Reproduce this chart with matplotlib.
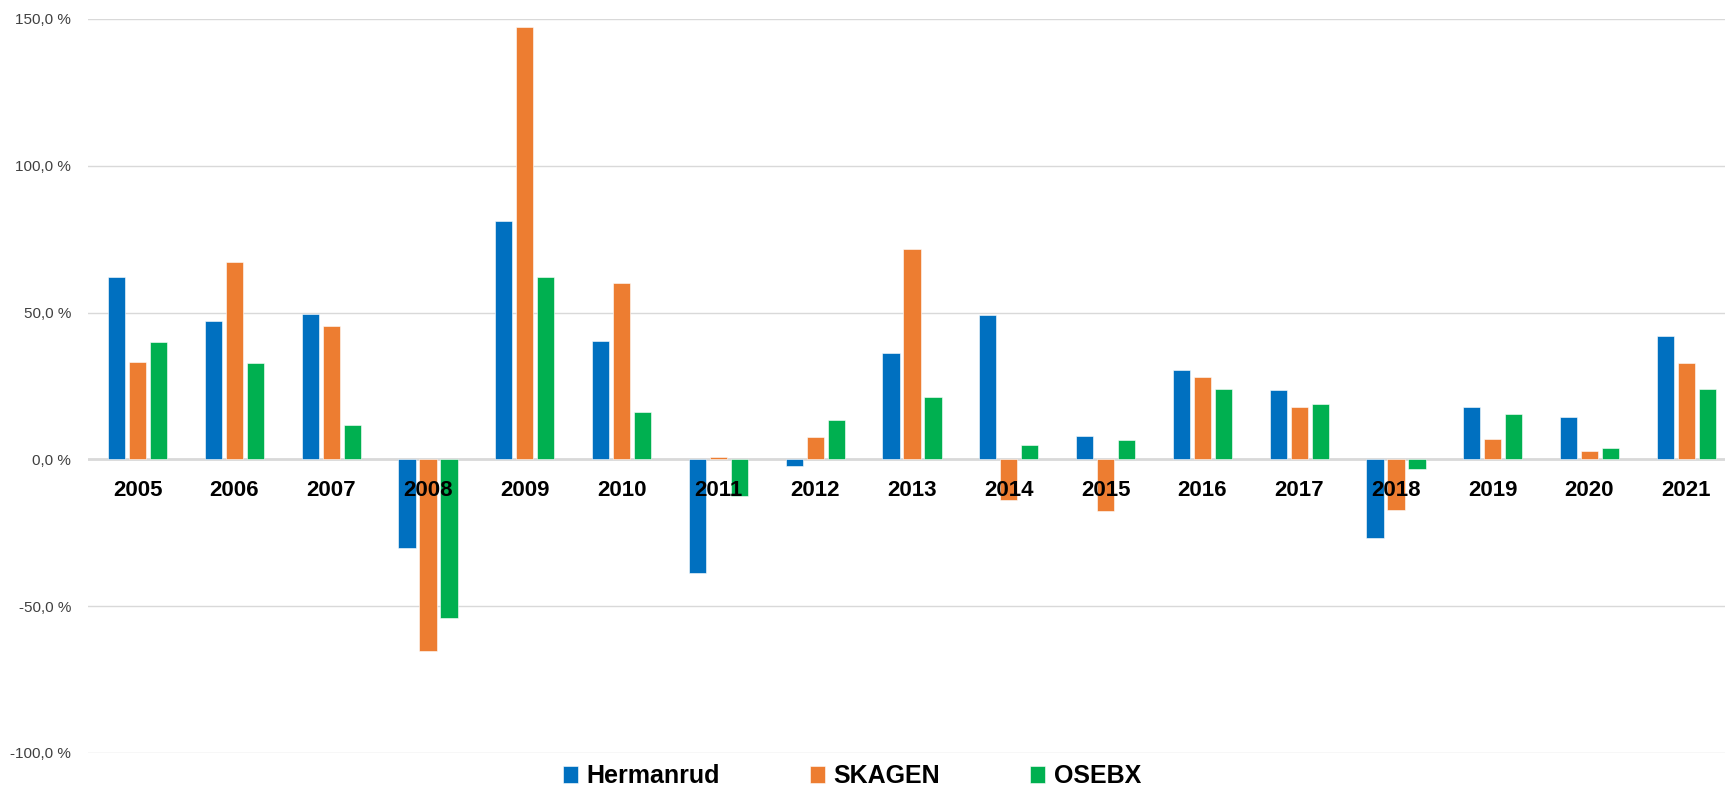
import numpy as np
import matplotlib
matplotlib.use("Agg")
import matplotlib.pyplot as plt
from matplotlib.ticker import FuncFormatter

# Data (annual returns, %)
years = ["2005", "2006", "2007", "2008", "2009", "2010", "2011", "2012", "2013",
         "2014", "2015", "2016", "2017", "2018", "2019", "2020", "2021"]
hermanrud = [62.1, 47.2, 49.6, -30.3, 81.3, 40.2, -38.8, -2.4, 36.3,
             49.2, 7.8, 30.3, 23.7, -26.8, 18.0, 14.5, 42.2]
skagen = [33.3, 67.2, 45.5, -65.2, 147.4, 60.1, 0.9, 7.5, 71.7,
          -13.7, -17.6, 27.9, 18.0, -17.3, 6.8, 2.8, 32.7]
osebx = [39.9, 32.7, 11.8, -54.0, 62.1, 16.1, -12.6, 13.3, 21.1,
         4.9, 6.6, 24.0, 18.7, -3.1, 15.4, 3.8, 24.0]

series = ["Hermanrud", "SKAGEN", "OSEBX"]
colors = ["#0070C0", "#ED7D31", "#00B050"]
y_ticks = [-100, -50, 0, 50, 100, 150]

font = ["Liberation Sans", "DejaVu Sans"]

fig = plt.figure(figsize=(17.25, 7.87), dpi=100)
ax = fig.add_axes([88 / 1725, 34 / 787, 1 - 88 / 1725, (753 - 19) / 787])

x = np.arange(len(years))
step = 0.217
width = 0.178
for i, (name, vals, c) in enumerate(zip(series, [hermanrud, skagen, osebx], colors)):
    ax.bar(x + (i - 1) * step, vals, width, color=c, label=name,
           edgecolor="white", linewidth=0.4, zorder=2)

# year labels just under the zero line, drawn over the bars
for xi, yr in zip(x, years):
    ax.annotate(yr, (xi, 0), xytext=(0, -31), textcoords="offset pixels",
                ha="center", va="center", fontsize=16, fontweight="bold",
                family=font, color="black", zorder=5)

ax.set_xlim(-0.513, len(years) - 1 + 0.40)
ax.set_ylim(-100, 150)
ax.set_yticks(y_ticks)
ax.yaxis.set_major_formatter(FuncFormatter(lambda v, p: f"{v:.1f}".replace(".", ",") + " %"))
for lbl in ax.get_yticklabels():
    lbl.set_family(font)
    lbl.set_fontsize(11)
    lbl.set_color("#404040")
ax.tick_params(axis="y", length=0, pad=12)
ax.set_xticks([])

ax.grid(axis="y", color="#d9d9d9", linewidth=1)
ax.set_axisbelow(True)
ax.axhline(0, color="#d9d9d9", linewidth=2, zorder=1)
for s in ax.spines.values():
    s.set_visible(False)

fig.legend(loc="center", bbox_to_anchor=(852 / 1725, 11 / 787), ncol=3, frameon=False,
           prop={"family": font, "weight": "bold", "size": 18},
           handlelength=0.6, handleheight=0.65, handletextpad=0.35,
           columnspacing=3.6, borderaxespad=0)

fig.savefig("out.png", dpi=100)
